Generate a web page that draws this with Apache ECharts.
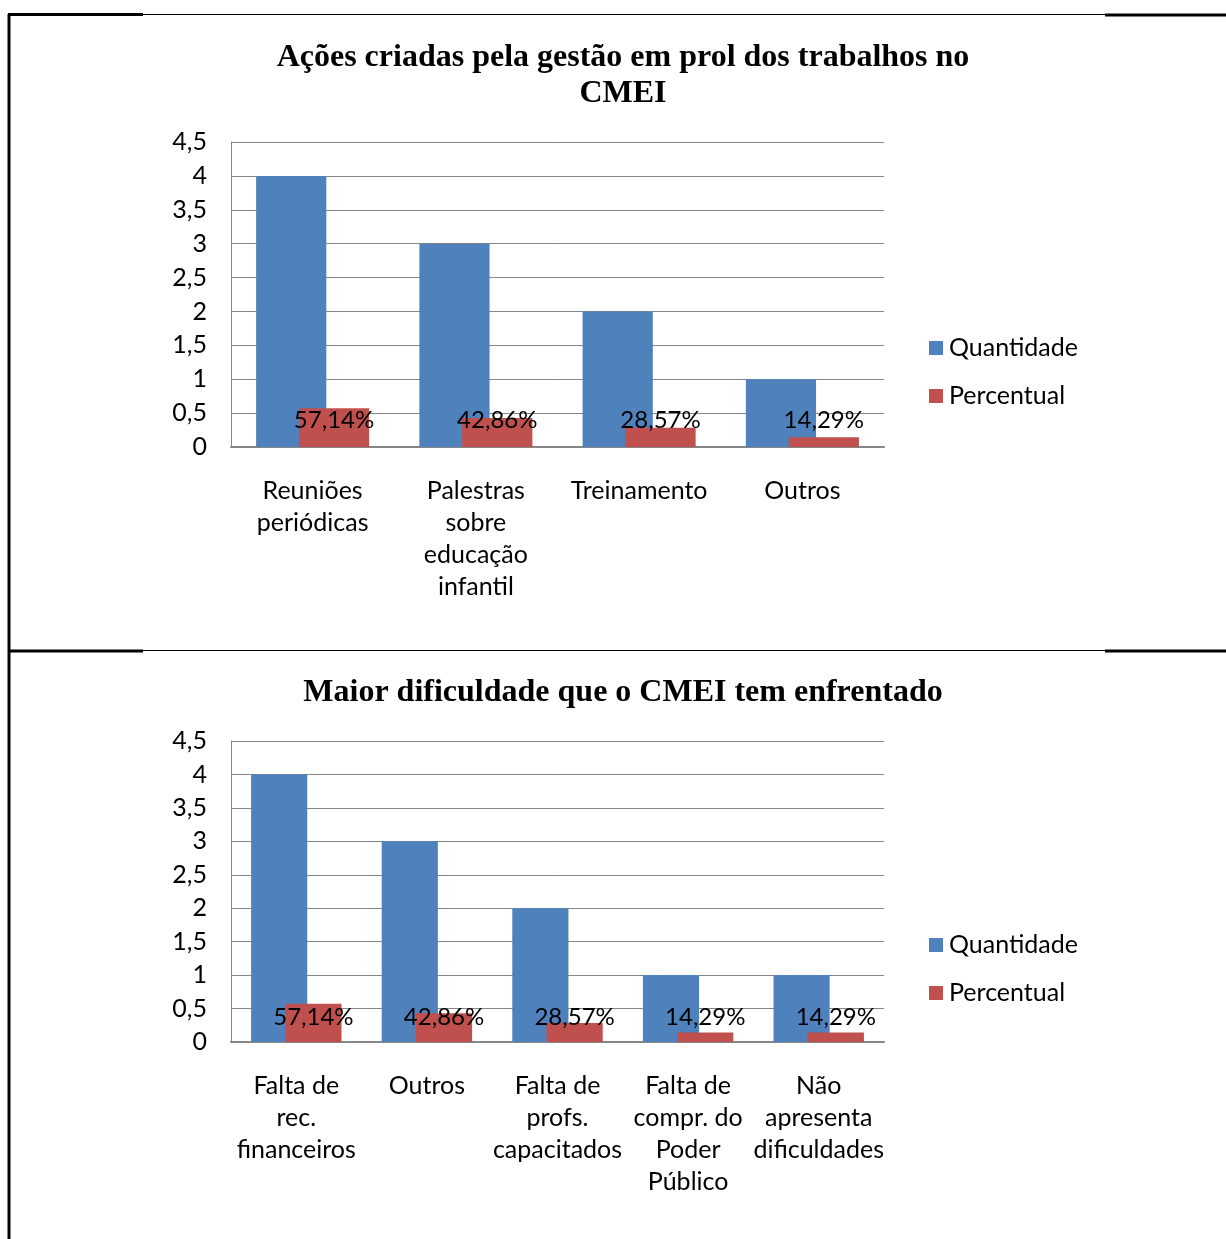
<!DOCTYPE html>
<html>
<head>
<meta charset="utf-8">
<script src="https://cdn.jsdelivr.net/npm/echarts@6/dist/echarts.min.js"></script>
<style>
  html, body { margin: 0; padding: 0; background: #fff; }
  #chart { width: 1226px; height: 1239px; }
</style>
</head>
<body>
<div id="chart"></div>
<script>
// Chart 1: actions taken by school management
const titleA = 'Ações criadas pela gestão em prol dos trabalhos no\nCMEI';
const categoriesA = ['Reuniões\nperiódicas', 'Palestras\nsobre\neducação\ninfantil', 'Treinamento', 'Outros'];
const quantidadeA = [4, 3, 2, 1];
const percentualA = [57.14, 42.86, 28.57, 14.29];

// Chart 2: main difficulty faced by the CMEI
const titleB = 'Maior dificuldade que o CMEI tem enfrentado';
const categoriesB = ['Falta de\nrec.\nfinanceiros', 'Outros', 'Falta de\nprofs.\ncapacitados', 'Falta de\ncompr. do\nPoder\nPúblico', 'Não\napresenta\ndificuldades'];
const quantidadeB = [4, 3, 2, 1, 1];
const percentualB = [57.14, 42.86, 28.57, 14.29, 14.29];

// Value axis ticks (shared by both charts)
const yTickLabels = ['0', '0,5', '1', '1,5', '2', '2,5', '3', '3,5', '4', '4,5'];

const seriesNames = ['Quantidade', 'Percentual'];
const BLUE = '#4F81BD';
const RED = '#C0504D';
const GRID = '#868686';
const SANS = 'Lato, "Open Sans", sans-serif';
const SERIF = '"Liberation Serif", "DejaVu Serif", serif';

const chart = echarts.init(document.getElementById('chart'));

function pctText(v) {
  return v.toFixed(2).replace('.', ',') + '%';
}

function valueAxis(gridIndex) {
  return {
    type: 'value', gridIndex: gridIndex, min: 0, max: 4.5, interval: 0.5,
    axisLine: { show: true, lineStyle: { color: GRID, width: 1 } },
    axisTick: { show: false },
    splitLine: { lineStyle: { color: GRID, width: 1 } },
    axisLabel: {
      color: '#000', fontFamily: SANS, fontSize: 25, margin: 24,
      formatter: function (v) { return yTickLabels[Math.round(v * 2)]; }
    }
  };
}

function categoryAxis(gridIndex, cats) {
  return {
    type: 'category', gridIndex: gridIndex, data: cats,
    axisLine: { show: true, lineStyle: { color: GRID, width: 2 } },
    axisTick: { show: false },
    axisLabel: {
      color: '#000', fontFamily: SANS, fontSize: 25, lineHeight: 32,
      margin: 28, interval: 0
    }
  };
}

function barPair(axisIndex, qty, pct, labelLift) {
  return [
    {
      name: seriesNames[0], type: 'bar', xAxisIndex: axisIndex, yAxisIndex: axisIndex,
      data: qty, barWidth: '43%', barGap: '-39%',
      itemStyle: { color: BLUE }
    },
    {
      name: seriesNames[1], type: 'bar', xAxisIndex: axisIndex, yAxisIndex: axisIndex,
      data: pct.map(function (p) { return { value: p / 100, pct: p }; }),
      barWidth: '43%', barGap: '-39%',
      itemStyle: { color: RED },
      label: {
        show: true, position: 'insideBottom', distance: labelLift,
        color: '#000', fontFamily: SANS, fontSize: 24, lineHeight: 24,
        formatter: function (p) { return pctText(p.data.pct); }
      }
    }
  ];
}

function legendAt(top) {
  return {
    data: seriesNames, orient: 'vertical', left: 929, top: top, padding: 0,
    itemWidth: 14, itemHeight: 14, itemGap: 18, icon: 'rect',
    textStyle: { color: '#000', fontFamily: SANS, fontSize: 25, lineHeight: 30, padding: [0, 0, 0, 1] }
  };
}

// Table frame around the two charts
function frameLine(x1, y1, x2, y2, w) {
  return { type: 'line', shape: { x1: x1, y1: y1, x2: x2, y2: y2 }, style: { stroke: '#000', lineWidth: w }, silent: true };
}

chart.setOption({
  animation: false,
  title: [
    { text: titleA, left: 623, top: 40, textAlign: 'center', padding: 0,
      textStyle: { fontFamily: SERIF, fontWeight: 'bold', fontSize: 32, lineHeight: 36, color: '#000' } },
    { text: titleB, left: 623, top: 675, textAlign: 'center', padding: 0,
      textStyle: { fontFamily: SERIF, fontWeight: 'bold', fontSize: 32, lineHeight: 36, color: '#000' } }
  ],
  legend: [legendAt(333), legendAt(930)],
  grid: [
    { left: 231, top: 142, width: 653, height: 305 },
    { left: 231, top: 741, width: 653, height: 301 }
  ],
  xAxis: [categoryAxis(0, categoriesA), categoryAxis(1, categoriesB)],
  yAxis: [valueAxis(0), valueAxis(1)],
  series: barPair(0, quantidadeA, percentualA, 15).concat(barPair(1, quantidadeB, percentualB, 13)),
  graphic: [
    frameLine(9, 14, 9, 1239, 3),
    frameLine(8, 14.5, 143, 14.5, 3),
    frameLine(143, 14.5, 1105, 14.5, 1),
    frameLine(1105, 15, 1226, 15, 3),
    frameLine(8, 651, 143, 651, 3),
    frameLine(143, 650.5, 1105, 650.5, 1),
    frameLine(1105, 651, 1226, 651, 3)
  ]
});
</script>
</body>
</html>
